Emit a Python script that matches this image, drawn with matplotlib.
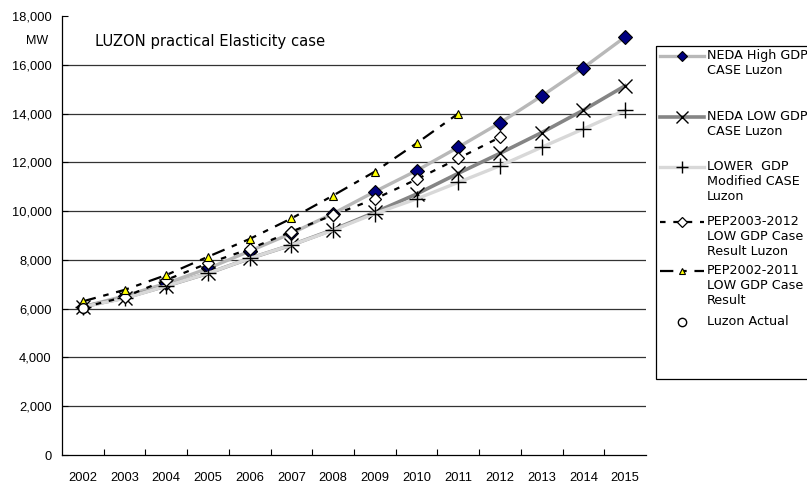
import matplotlib
matplotlib.use('Agg')
import matplotlib.pyplot as plt
import numpy as np
from matplotlib.lines import Line2D
from matplotlib.patches import Rectangle

plt.rcParams['font.family'] = ['Liberation Sans', 'DejaVu Sans']

years = ['2002', '2003', '2004', '2005', '2006', '2007', '2008',
         '2009', '2010', '2011', '2012', '2013', '2014', '2015']
nan = np.nan
neda_high = [6080, 6520, 7040, 7650, 8360, 9090, 9900, 10800, 11660, 12620, 13620, 14720, 15880, 17140]
neda_low = [6080, 6440, 6930, 7450, 8060, 8610, 9240, 9950, 10700, 11550, 12370, 13220, 14140, 15140]
lower_gdp = [6080, 6420, 6930, 7450, 8060, 8610, 9220, 9900, 10500, 11180, 11860, 12620, 13370, 14140]
pep2003 = [6050, 6480, 7180, 7860, 8450, 9160, 9840, 10500, 11300, 12160, 13030, nan, nan, nan]
pep2002 = [6300, 6770, 7380, 8130, 8860, 9700, 10640, 11620, 12780, 14000, nan, nan, nan, nan]
actual = [6030, nan, nan, nan, nan, nan, nan, nan, nan, nan, nan, nan, nan, nan]

labels = ['NEDA High GDP\nCASE Luzon',
          'NEDA LOW GDP\nCASE Luzon',
          'LOWER  GDP\nModified CASE\nLuzon',
          'PEP2003-2012\nLOW GDP Case\nResult Luzon',
          'PEP2002-2011\nLOW GDP Case\nResult',
          'Luzon Actual']

styles = [
    dict(color='#b8b8b8', lw=2.4, marker='D', ms=7.5, mfc='#000080', mec='black', mew=0.8),
    dict(color='#858585', lw=2.6, marker='x', ms=10, mec='black', mew=1.0),
    dict(color='#d8d8d8', lw=2.4, marker='+', ms=11, mec='black', mew=1.0),
    dict(color='black', lw=1.6, ls=(0, (2.5, 3.5)), marker='D', ms=6, mfc='white', mec='black', mew=0.9),
    dict(color='black', lw=1.6, ls=(0, (6, 3.5, 2.5, 3.5)), marker='^', ms=5.5, mfc='#ffff00', mec='black', mew=0.8),
    dict(color='none', lw=0, marker='o', ms=7, mfc='white', mec='black', mew=1.0),
]
legend_ms = [5.5, 8, 8, 5.5, 4.5, 6]
series = [neda_high, neda_low, lower_gdp, pep2003, pep2002, actual]

W, H = 807, 483
fig = plt.figure(figsize=(W / 100, H / 100), dpi=100)
ax = fig.add_axes([62 / W, 1 - 455 / H, 584 / W, 439 / H])

x = np.arange(len(years))
for s, st in zip(series, styles):
    ax.plot(x, s, **st)

ax.set_xlim(-0.5, len(years) - 0.5)
ax.set_ylim(0, 18000)
ax.set_yticks(np.arange(0, 18001, 2000))
ax.set_yticklabels([f'{v:,}' for v in range(0, 18001, 2000)], fontsize=9.3)
for v in range(2000, 18000, 2000):
    ax.axhline(v, color='#333333', lw=0.9, zorder=0)
ax.set_xticks(x)
ax.set_xticklabels(years, fontsize=9.3)
ax.set_xticks(np.arange(0.5, len(years) - 1, 1), minor=True)
ax.tick_params(axis='x', which='major', length=0, pad=12)
ax.tick_params(axis='x', which='minor', direction='in', length=4, width=0.8)
ax.tick_params(axis='y', direction='in', length=4, width=0.8, pad=7.5)
for sp in ['top', 'right']:
    ax.spines[sp].set_visible(False)
for sp in ['left', 'bottom']:
    ax.spines[sp].set_linewidth(0.9)

ax.text(0.056, 0.941, 'LUZON practical Elasticity case', transform=ax.transAxes,
        fontsize=10.6, va='center', ha='left', family='DejaVu Sans')
fig.text(37 / W, 1 - 41 / H, 'MW', fontsize=9, ha='center', va='center')

# legend drawn in pixel space on an overlay axes
lax = fig.add_axes([0, 0, 1, 1])
lax.set_xlim(0, W)
lax.set_ylim(H, 0)
lax.axis('off')
lax.add_patch(Rectangle((656, 46), 160, 333, fill=False, ec='black', lw=0.9))
entry_y = [56, 117, 167, 222, 271, 322]
for st, lab, ey, lms in zip(styles, labels, entry_y, legend_ms):
    if st['lw'] > 0:
        lax.add_line(Line2D([660, 704], [ey, ey], color=st['color'], lw=st['lw'],
                            ls=st.get('ls', '-')))
    lax.add_line(Line2D([682], [ey], ls='none', marker=st['marker'], ms=lms,
                        mfc=st.get('mfc', 'none'), mec=st['mec'], mew=st['mew']))
    lax.text(707, ey - 7, lab, fontsize=9.2, va='top', ha='left', linespacing=1.2,
             family='DejaVu Sans')

fig.savefig('out.png', dpi=100)
